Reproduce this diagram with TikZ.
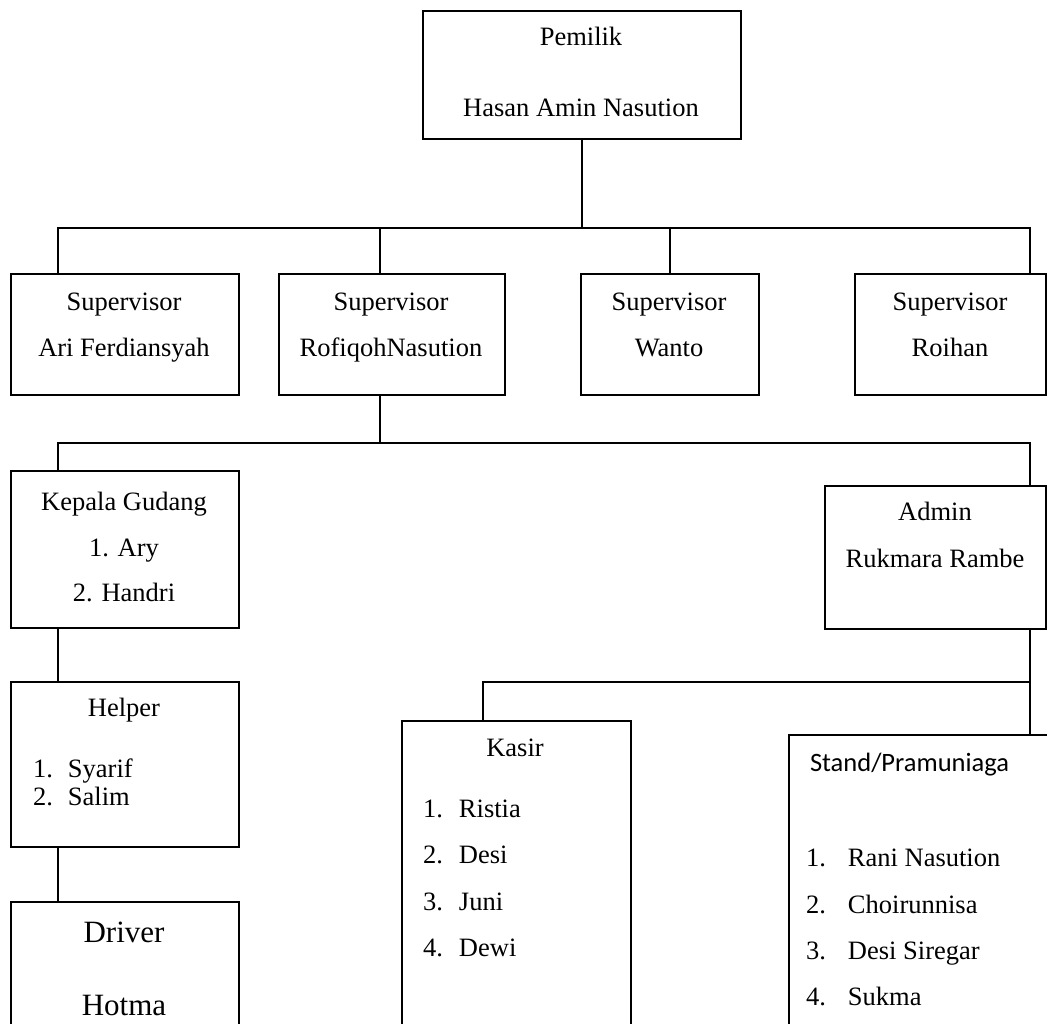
\documentclass[tikz,border=0pt]{standalone}
\usepackage{fontspec}
\setmainfont{Liberation Serif}
\newfontfamily\calibri{Carlito}

\tikzset{
	box/.style={draw, rectangle, inner sep=0pt, anchor=north west},
	txt/.style={anchor=base, inner sep=0pt, font=\fontsize{26.5}{30}\selectfont},
	item/.style={anchor=base west, inner sep=0pt, font=\fontsize{26.5}{30}\selectfont},
	big/.style={font=\fontsize{31}{36}\selectfont}
}

\begin{document}
\begin{tikzpicture}[x=1pt,y=-1pt,line width=2pt]
	\useasboundingbox (0,0) rectangle (1047,1023);
	\clip (0,0) rectangle (1047,1023);
	% boxes
	\node[box, minimum width=318, minimum height=128] (pemilik) at (422,10) {};
	\node[box, minimum width=228, minimum height=121] (sup1) at (10,273) {};
	\node[box, minimum width=226, minimum height=121] (sup2) at (278,273) {};
	\node[box, minimum width=178, minimum height=121] (sup3) at (580,273) {};
	\node[box, minimum width=191, minimum height=121] (sup4) at (854,273) {};
	\node[box, minimum width=228, minimum height=157] (kepala) at (10,470) {};
	\node[box, minimum width=221, minimum height=143] (admin) at (824,485) {};
	\node[box, minimum width=228, minimum height=165] (helper) at (10,681) {};
	\node[box, minimum width=228, minimum height=160] (driver) at (10,901) {};
	\node[box, minimum width=229, minimum height=340] (kasir) at (401,720) {};
	\node[box, minimum width=290, minimum height=330] (stand) at (788,734) {};
	% texts
	\node[txt] (pemilik1) at (581,45) {Pemilik};
	\node[txt] (pemilik2) at (581,116) {Hasan Amin Nasution};
	\node[txt] (sup1a) at (124,310) {Supervisor};
	\node[txt] (sup1b) at (124,356) {Ari Ferdiansyah};
	\node[txt] (sup2a) at (391,310) {Supervisor};
	\node[txt] (sup2b) at (391,356) {RofiqohNasution};
	\node[txt] (sup3a) at (669,310) {Supervisor};
	\node[txt] (sup3b) at (669,356) {Wanto};
	\node[txt] (sup4a) at (950,310) {Supervisor};
	\node[txt] (sup4b) at (950,356) {Roihan};
	\node[txt] (kepala1) at (124,510) {Kepala Gudang};
	\node[txt] (kepala2) at (124,556) {1. Ary};
	\node[txt] (kepala3) at (124,601) {2. Handri};
	\node[txt] (admin1) at (935,520) {Admin};
	\node[txt] (admin2) at (935,567) {Rukmara Rambe};
	\node[txt] (helper0) at (124,716) {Helper};
	\node[item] (helper1) at (32,777) {\makebox[35pt][l]{1.}Syarif};
	\node[item] (helper2) at (32,805) {\makebox[35pt][l]{2.}Salim};
	\node[txt, big] (driver1) at (124,942) {Driver};
	\node[txt, big] (driver2) at (124,1015) {Hotma};
	\node[txt] (kasir0) at (515,756) {Kasir};
	\foreach \i/\n in {1/Ristia,2/Desi,3/Juni,4/Dewi}
		\node[item] (kasir\i) at (422,{770.5+46.5*\i}) {\makebox[36pt][l]{\i.}\n};
	\node[item, font=\calibri\fontsize{26.5}{30}\selectfont] (stand0) at (809,771) {Stand/Pramuniaga};
	\foreach \i/\n in {1/Rani Nasution,2/Choirunnisa,3/Desi Siregar,4/Sukma}
		\node[item] (stand\i) at (805,{820.3+46.4*\i}) {\makebox[42pt][l]{\i.}\n};
	% connectors
	\coordinate (bus1) at (0,228);
	\coordinate (bus2) at (0,443);
	\coordinate (bus3) at (0,682);
	\coordinate (laneA) at (58,0);
	\coordinate (laneB) at (380,0);
	\coordinate (laneC) at (670,0);
	\coordinate (laneD) at (1030,0);
	\coordinate (laneE) at (483,0);
	\draw (pemilik.south) -- (pemilik.south |- bus1);
	\draw (sup1.north -| laneA) |- (bus1 -| laneD) -- (sup4.north -| laneD);
	\draw (sup2.north -| laneB) -- (bus1 -| laneB);
	\draw (sup3.north -| laneC) -- (bus1 -| laneC);
	\draw (sup2.south -| laneB) -- (bus2 -| laneB);
	\draw (kepala.north -| laneA) |- (bus2 -| laneD) -- (admin.north -| laneD);
	\draw (kepala.south -| laneA) -- (helper.north -| laneA);
	\draw (helper.south -| laneA) -- (driver.north -| laneA);
	\draw (admin.south -| laneD) -- (stand.north -| laneD);
	\draw (kasir.north -| laneE) |- (bus3 -| laneD);
\end{tikzpicture}
\end{document}
